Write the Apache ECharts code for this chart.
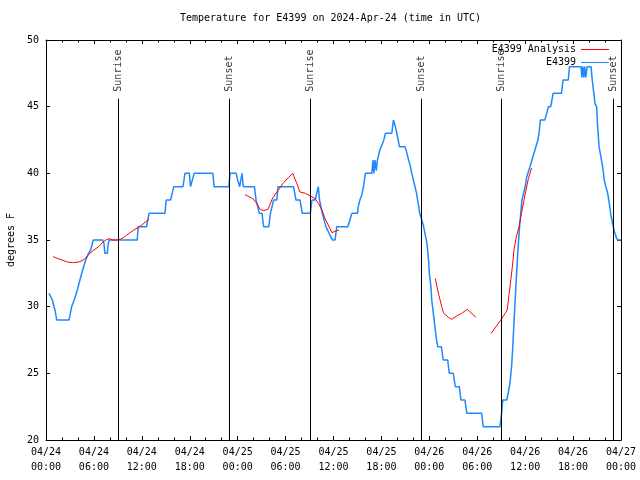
<!DOCTYPE html>
<html><head><meta charset="utf-8">
<script src="https://cdn.jsdelivr.net/npm/echarts@6/dist/echarts.min.js"></script>
<style>html,body{margin:0;padding:0;background:#fff}#c{width:640px;height:480px}</style>
</head><body><div id="c"></div>
<script>
// x values are hours since 2024-04-24 00:00 UTC
const xTickLabels = ["04/24\n00:00","04/24\n06:00","04/24\n12:00","04/24\n18:00",
  "04/25\n00:00","04/25\n06:00","04/25\n12:00","04/25\n18:00",
  "04/26\n00:00","04/26\n06:00","04/26\n12:00","04/26\n18:00","04/27\n00:00"];

const blueHours = [0.38,0.6,0.8,1.0,1.13,1.34,2.88,3.05,3.21,3.59,3.92,4.25,4.59,4.92,5.25,5.59,5.92,7.09,7.25,7.38,7.67,7.8,7.92,
  11.42,11.55,12.6,12.9,14.9,15.05,15.6,15.8,16.0,17.15,17.4,17.95,18.1,18.35,18.55,20.9,21.05,22.9,23.05,23.8,24.0,24.25,24.4,24.55,24.7,
  26.1,26.3,26.5,26.7,27.05,27.25,27.9,28.1,28.5,28.9,29.05,31.0,31.3,31.8,32.1,33.1,33.3,33.7,34.1,34.25,34.6,35.05,35.6,35.9,36.2,36.4,
  37.8,38.3,39.0,39.1,39.3,39.55,39.75,40.0,40.8,40.95,41.05,41.2,41.35,41.5,41.8,42.05,42.3,42.5,43.3,43.5,43.7,43.9,44.1,44.25,44.96,
  45.2,45.4,45.6,45.8,46.0,46.2,46.4,46.6,46.8,47.05,47.25,47.45,47.7,47.9,48.0,48.2,48.3,48.5,48.7,48.9,49.05,49.5,49.75,50.3,50.5,51.0,
  51.25,51.75,51.96,52.46,52.7,54.55,54.75,56.84,57.05,57.2,57.7,57.9,58.1,58.3,58.45,58.6,58.75,58.9,59.1,59.3,59.5,59.6,59.84,60.0,60.2,
  60.6,61.0,61.4,61.6,61.75,61.9,62.46,62.7,62.9,63.2,63.35,63.5,64.55,64.75,65.4,65.55,67.0,67.1,67.2,67.35,67.45,67.6,67.75,68.25,68.4,
  68.6,68.75,68.95,69.05,69.25,69.5,69.75,69.9,70.1,70.3,70.5,70.7,70.95,71.15,71.4,71.6,72.0];
const blueTemps = [31,31,30.5,30,29.75,29,29,29.5,30,30.6,31.25,32,32.75,33.4,33.9,34.25,35,35,34.75,34,34,34.75,35,
  35,36,36,37,37,38,38,38.5,39,39,40,40,39,39,40,40,39,39,40,40,39.5,39,39,40,39,
  39,38,38,37,37,36,36,37,38,38,39,39,38,38,37,37,38,38,39,38,37,36,35.3,35,35,36,
  36,37,37,37.5,38,38.4,39,40,40,41,40,41,40.2,41,41.75,42.1,42.5,43,43,44,43.6,43.1,42.5,42,42,
  41.5,41,40.6,40,39.5,39,38.5,37.75,37,36.5,36.1,35.5,34.75,33.5,32.5,31.5,30.5,29.5,28.5,27.5,27,27,26,26,25,25,
  24,24,23,23,22,22,21,21,22,23,23,23.6,24.3,25.5,27,28.8,30.5,32.2,34.3,36,37.4,38,38,39,39.75,
  40.5,41.3,42.1,42.5,43.1,44,44,44.5,45,45,45.5,46,46,47,47,48,48,47.2,48,47.2,48,47.2,48,48,47,
  46,45.2,45,43.75,42,41.2,40.3,39.5,39,38.6,37.9,37,36.2,35.7,35.2,35,35];

// analysis values; null separates runs
const redHours = [0.9,1.5,2,2.7,3.3,4.1,4.7,5.4,6.0,6.6,7.05,7.5,7.9,8.3,8.9,9.35,9.75,10.4,11.0,11.6,12.25,12.9,null,
  24.9,25.4,25.9,26.4,26.8,27.25,27.8,28.3,28.9,29.75,30.4,30.9,31.4,31.8,32.5,33.1,33.7,34.1,34.55,34.95,35.4,35.8,36.2,36.7,null,
  48.75,49.1,49.55,49.8,50.4,50.8,51.4,52.05,52.75,53.1,53.85,null,
  55.75,56.4,56.95,57.5,57.75,58.0,58.2,58.4,58.6,58.9,59.25,59.55,59.95,60.4,60.8];
const redTemps = [33.75,33.6,33.5,33.35,33.3,33.35,33.5,33.95,34.25,34.5,34.8,35.0,35.1,35.0,35.0,35.07,35.2,35.5,35.75,35.95,36.25,36.55,null,
  38.4,38.25,38.1,37.75,37.3,37.2,37.3,38.05,38.6,39.3,39.7,40.0,39.25,38.6,38.5,38.3,38.1,37.75,37.25,36.6,36.05,35.55,35.65,35.75,null,
  32.1,31.1,30.0,29.5,29.2,29.05,29.3,29.5,29.8,29.6,29.2,null,
  28.0,28.55,29.0,29.5,29.75,31.0,32.0,33.0,34.25,35.25,36.05,37.05,38.3,39.6,40.4];

const sunHours = [9.1,23.0,33.1,47.0,57.05,71.0];
const sunLabels = ["Sunrise","Sunset","Sunrise","Sunset","Sunrise","Sunset"];
const sunTop = 45.6;

const FONT = "'DejaVu Sans Mono', monospace";
const BLUE = '#1e88ff', RED = '#ff0000';

const blueData = blueHours.map((h, i) => [h, blueTemps[i]]);
const redRuns = [];
let cur = [];
redHours.forEach((h, i) => {
  if (h === null) { if (cur.length) redRuns.push(cur); cur = []; }
  else cur.push([h, redTemps[i]]);
});
if (cur.length) redRuns.push(cur);

const series = [];
redRuns.forEach(run => series.push({
  name: 'E4399 Analysis', type: 'line', data: run, showSymbol: false, symbol: 'none',
  lineStyle: { color: RED, width: 1 }, itemStyle: { color: RED }, z: 4
}));
series.unshift({
  name: 'E4399', type: 'line', data: blueData, showSymbol: false, symbol: 'none',
  lineStyle: { color: BLUE, width: 1.5 }, itemStyle: { color: BLUE }, z: 3
});
series.push({
  name: 'sun', type: 'scatter', symbolSize: 0, silent: true, z: 5,
  data: sunHours.map((h, i) => [h, sunTop, sunLabels[i]]),
  label: {
    show: true, formatter: p => p.data[2], position: 'top', distance: 7,
    rotate: 90, align: 'left', verticalAlign: 'middle',
    fontFamily: FONT, fontSize: 10, color: '#000'
  },
  markLine: {
    silent: true, symbol: 'none', animation: false,
    label: { show: false },
    lineStyle: { color: '#000', width: 1, type: 'solid' },
    data: sunHours.map(h => [{ coord: [h, sunTop] }, { coord: [h, 20] }])
  }
});

const xBase = {
  type: 'value', min: 0, max: 72, interval: 6,
  axisLine: { show: true, onZero: false, lineStyle: { color: '#000', width: 1 } },
  axisTick: { show: true, inside: true, length: 4, lineStyle: { color: '#000' } },
  minorTick: { show: true, splitNumber: 3, length: 2.5, lineStyle: { color: '#000' } },
  splitLine: { show: false }
};
const yBase = {
  type: 'value', min: 20, max: 50, interval: 5,
  axisLine: { show: true, onZero: false, lineStyle: { color: '#000', width: 1 } },
  axisTick: { show: true, inside: true, length: 4, lineStyle: { color: '#000' } },
  splitLine: { show: false }
};

const chart = echarts.init(document.getElementById('c'), null, { renderer: 'canvas' });
chart.setOption({
  animation: false,
  backgroundColor: '#fff',
  title: {
    text: 'Temperature for E4399 on 2024-Apr-24 (time in UTC)',
    left: 180, top: 13, padding: 0,
    textStyle: { fontFamily: FONT, fontSize: 10, fontWeight: 'normal', color: '#000' }
  },
  legend: {
    data: ['E4399 Analysis', 'E4399'],
    orient: 'vertical', align: 'right', right: 31, top: 43, padding: 0, itemGap: 0,
    itemWidth: 28, itemHeight: 1, icon: 'rect',
    textStyle: { fontFamily: FONT, fontSize: 10, color: '#000', lineHeight: 13 }
  },
  grid: { left: 46, right: 19, top: 40, bottom: 40, containLabel: false, outerBoundsMode: 'none' },
  xAxis: [
    Object.assign({}, xBase, {
      position: 'bottom',
      axisLabel: { show: true, fontFamily: FONT, fontSize: 10, color: '#000', lineHeight: 15, margin: 5,
        formatter: v => xTickLabels[Math.round(v / 6)] }
    }),
    Object.assign({}, xBase, { position: 'top', axisLabel: { show: false } })
  ],
  yAxis: [
    Object.assign({}, yBase, {
      position: 'left', name: 'degrees F', nameLocation: 'middle', nameGap: 30, nameRotate: 90,
      nameTextStyle: { fontFamily: FONT, fontSize: 10, color: '#000' },
      axisLabel: { show: true, fontFamily: FONT, fontSize: 10, color: '#000', margin: 7 }
    }),
    Object.assign({}, yBase, { position: 'right', axisLabel: { show: false } })
  ],
  series: series
});
</script></body></html>
